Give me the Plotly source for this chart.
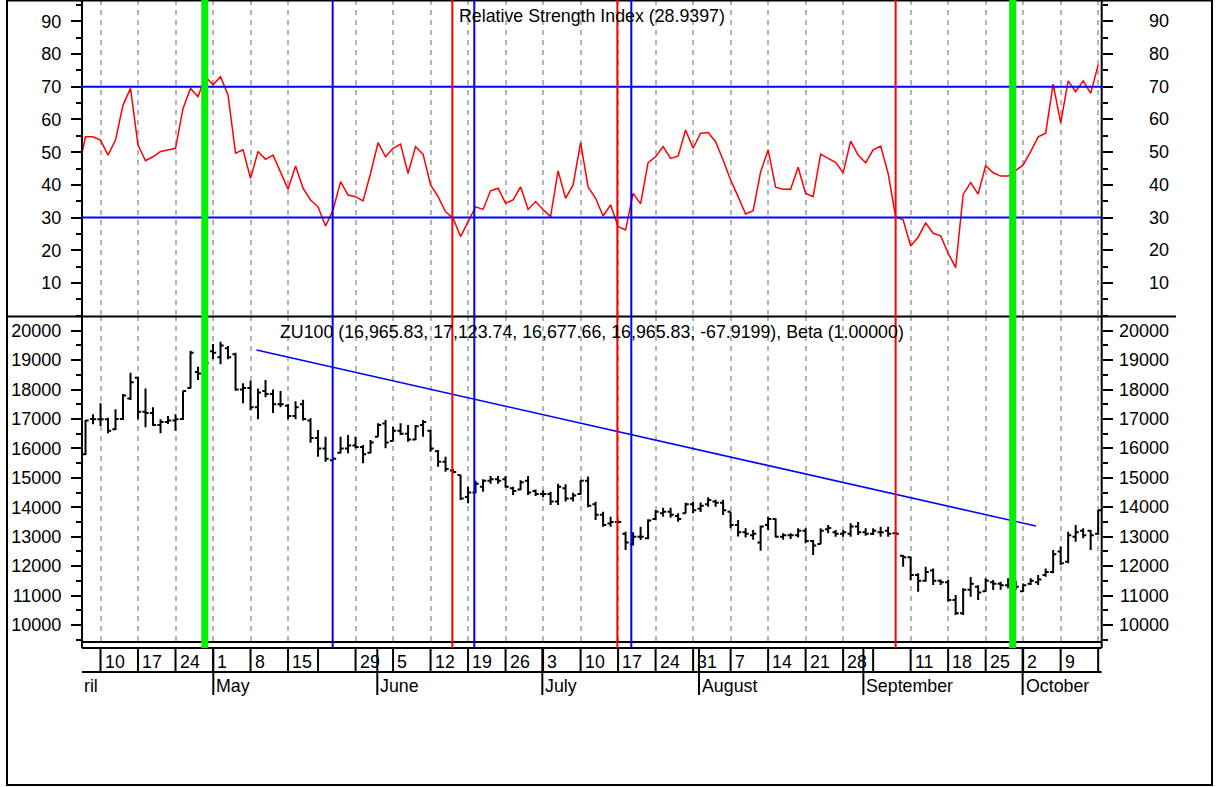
import plotly.graph_objects as go

W, H = 1219, 787

# ---------------- data ----------------
bar_index = list(range(136))
rsi_index = list(range(-1, 136))

rsi_values = [44.0,
    54.7, 54.7, 53.7, 49.1, 53.7, 64.4, 69.5, 52.2, 47.4, 48.6,
    50.2, 50.7, 51.2, 63.4, 69.5, 67.0, 73.1, 70.6, 73.1, 67.5,
    49.7, 50.7, 42.0, 50.2, 47.8, 49.1, 44.0, 38.7, 45.8, 39.0,
    35.4, 33.3, 27.4, 32.3, 41.0, 36.9, 36.4, 35.1, 43.5, 52.9,
    48.6, 51.2, 52.5, 43.5, 51.7, 49.4, 40.0, 36.4, 31.8, 29.8,
    24.2, 28.7, 33.3, 32.5, 38.2, 39.0, 34.4, 35.4, 39.4, 32.5,
    34.9, 32.5, 30.3, 44.3, 35.9, 40.0, 52.9, 39.4, 35.9, 30.5,
    33.9, 27.2, 26.2, 37.4, 34.2, 46.8, 48.6, 51.7, 48.1, 48.8,
    56.8, 51.2, 55.8, 56.0, 53.2, 47.6, 41.5, 36.4, 31.1, 32.1,
    44.0, 50.7, 39.3, 38.7, 38.7, 45.4, 37.4, 36.4, 49.4, 48.1,
    46.9, 43.7, 53.4, 49.1, 46.8, 50.7, 51.9, 43.5, 30.3, 29.3,
    21.3, 24.0, 28.4, 25.2, 24.4, 19.1, 14.7, 37.1, 40.7, 37.2,
    45.9, 43.7, 42.7, 42.7, 44.3, 46.1, 50.2, 54.7, 55.8, 70.8,
    59.0, 71.8, 68.5, 71.8, 68.0, 76.7]

opens = [15800, 17000, 16990, 16990, 16650, 17000, 17700, 18400, 17250, 17200,
         16800, 16900, 16950, 17000, 18050, 18600, 18550, 19300, 19100, 19400,
         19200, 18000, 18050, 17400, 17950, 17850, 17500, 17450, 17100, 17500,
         16950, 16350, 16000, 15600, 15850, 16000, 16100, 16050, 15850, 16400,
         16850, 16250, 16600, 16500, 16300, 16800, 16600, 15900, 15550, 15250,
         15100, 14350, 14500, 14700, 14900, 14950, 14950, 14650, 14600, 14900,
         14550, 14450, 14450, 14200, 14650, 14300, 14450, 14900, 14100, 13750,
         13450, 13500, 13100, 12750, 13000, 12950, 13600, 13800, 13850, 13700,
         13800, 14100, 13950, 14100, 14200, 14150, 13850, 13400, 13150, 13050,
         12800, 13400, 13600, 13000, 13050, 13050, 13200, 12850, 12750, 13250,
         13150, 13100, 13100, 13350, 13150, 13100, 13150, 13200, 13120, 12350,
         12300, 11700, 11500, 11850, 11500, 11450, 10850, 10400, 11200, 11300,
         11150, 11450, 11400, 11350, 11350, 11150, 11400, 11450, 11700, 11800,
         12500, 12150, 13000, 13200, 13200, 13100]
highs = [16966, 17159, 17533, 17044, 17330, 17849, 18573, 18437, 18040, 17400,
         16990, 17100, 17160, 17960, 19320, 18776, 19000, 19548, 19626, 19480,
         19252, 18213, 18300, 18040, 18325, 18000, 17950, 17510, 17600, 17650,
         17024, 16625, 16398, 15700, 16398, 16456, 16398, 16115, 16286, 16853,
         16966, 16738, 16853, 16800, 16800, 16966, 16625, 15946, 15720, 15300,
         15100, 14700, 14900, 14950, 15060, 15060, 15060, 14700, 14920, 15060,
         14600, 14580, 14530, 14800, 14780, 14490, 14920, 15050, 14190, 13850,
         13680, 13550, 13170, 13150, 13340, 13590, 13910, 13980, 13980, 13800,
         14155, 14190, 14160, 14340, 14260, 14260, 13850, 13570, 13290, 13230,
         13380, 13680, 13620, 13120, 13120, 13290, 13290, 12890, 13290, 13400,
         13230, 13230, 13460, 13500, 13290, 13290, 13340, 13340, 13150, 12380,
         12320, 11755, 11980, 11920, 11550, 11530, 11020, 11250, 11630, 11350,
         11590, 11530, 11470, 11590, 11500, 11410, 11590, 11700, 11920, 12550,
         12665, 13170, 13400, 13290, 13230, 13910]
lows = [15775, 16819, 16761, 16513, 16626, 16965, 17645, 16990, 16717, 16760,
        16513, 16830, 16600, 16965, 18040, 18325, 18300, 19028, 18858, 19028,
        17961, 17533, 17306, 16990, 17737, 17200, 17400, 16990, 16990, 16950,
        16195, 15720, 15550, 15580, 15834, 15834, 16000, 15494, 15840, 16398,
        16004, 16240, 16456, 16229, 16280, 16400, 15890, 15380, 15210, 15150,
        14250, 14135, 14480, 14530, 14800, 14800, 14660, 14420, 14580, 14420,
        14380, 14350, 14080, 14080, 14200, 14200, 14420, 14000, 13570, 13340,
        13340, 13450, 12550, 12700, 12890, 12910, 13570, 13680, 13640, 13510,
        13795, 13795, 13840, 14020, 14020, 13740, 13285, 13010, 12970, 12900,
        12520, 13230, 12970, 12900, 12920, 12970, 12780, 12380, 12740, 13115,
        13000, 13000, 13000, 13060, 13030, 13060, 13000, 13000, 13080, 11980,
        11530, 11130, 11470, 11360, 11360, 10790, 10340, 10340, 10960, 10850,
        11130, 11190, 11200, 11250, 11200, 11130, 11360, 11360, 11640, 11755,
        12040, 12100, 12830, 12950, 12550, 13060]
closes = [16950, 16990, 16990, 16600, 17000, 17800, 18250, 17250, 17200, 16800,
          16900, 16950, 16990, 17950, 19250, 18550, 18900, 19250, 19500, 19100,
          18000, 18050, 17400, 17900, 17850, 17500, 17500, 17100, 17400, 17000,
          16350, 16000, 15650, 15650, 16000, 16100, 16050, 15800, 16200, 16800,
          16200, 16600, 16500, 16300, 16750, 16900, 16000, 15550, 15300, 15200,
          14300, 14500, 14800, 14900, 14950, 14900, 14700, 14550, 14850, 14500,
          14450, 14450, 14200, 14700, 14300, 14400, 14900, 14050, 13750, 13400,
          13500, 13500, 12800, 13000, 13000, 13550, 13850, 13850, 13750, 13600,
          14100, 13900, 14050, 14250, 14150, 13900, 13400, 13150, 13100, 13100,
          13350, 13600, 13000, 13050, 13050, 13200, 12850, 12700, 13200, 13300,
          13100, 13150, 13350, 13150, 13100, 13200, 13150, 13100, 13100, 12300,
          11700, 11500, 11800, 11500, 11450, 10850, 10400, 11200, 11400, 11100,
          11500, 11400, 11350, 11350, 11300, 11350, 11500, 11550, 11800, 12400,
          12100, 13050, 13150, 13050, 13050, 13900]

rsi_ticks = [10, 20, 30, 40, 50, 60, 70, 80, 90]
price_ticks = [10000, 11000, 12000, 13000, 14000, 15000, 16000, 17000, 18000, 19000, 20000]

week_index = [2, 7, 12, 17, 22, 27, 31, 36, 41, 46, 51, 56, 61, 66, 71, 76,
              81, 86, 91, 96, 101, 105, 110, 115, 120, 125, 130, 135]
week_labels = ["10", "17", "24", "1", "8", "15", "", "29", "5", "12", "19", "26",
               "3", "10", "17", "24", "31", "7", "14", "21", "28", "", "11", "18",
               "25", "2", "9", ""]
grid_index = [i for i, lab in zip(week_index, week_labels) if lab] + [135]
month_index = [17.04, 38.9, 60.9, 81.78, 103.7, 124.93]
month_labels = ["May", "June", "July", "August", "September", "October"]

green_marks = [15.9, 123.6]
red_marks = [48.9, 70.9, 108.0]
blue_marks = [32.95, 51.83, 72.76]
rsi_levels = [30, 70]
trend_x = [22.8, 126.7]
trend_y = [19344, 13364]

rsi_title = "Relative Strength Index (28.9397)"
price_title = "ZU100 (16,965.83, 17,123.74, 16,677.66, 16,965.83, -67.9199), Beta (1.00000)"

# ---------------- geometry ----------------
PL, PR = 82, 1101.7
RSI_TOP, RSI_BOT = 0, 316
PR_TOP, PR_BOT = 316, 642
AX_TOP, DAY_BOT, MON_BOT = 648, 672, 695
X_RANGE = [-0.467, 135.47]
RSI_RANGE = [-0.09, 96.54]
PRICE_RANGE = [9422, 20500]
FONT = "Liberation Sans, Arial, sans-serif"


def fx(px):
    return px / W


def fy(py):
    return 1 - py / H


fig = go.Figure()
fig.add_trace(go.Ohlc(x=bar_index, open=opens, high=highs, low=lows, close=closes,
                      xaxis="x2", yaxis="y2", tickwidth=0.42,
                      increasing=dict(line=dict(color="black", width=2)),
                      decreasing=dict(line=dict(color="black", width=2)),
                      hoverinfo="skip", showlegend=False))
fig.add_trace(go.Scatter(x=trend_x, y=trend_y, xaxis="x2", yaxis="y2", mode="lines",
                         line=dict(color="#0000ff", width=1.6), showlegend=False,
                         hoverinfo="skip"))
fig.add_trace(go.Scatter(x=rsi_index, y=rsi_values, xaxis="x", yaxis="y", mode="lines",
                         line=dict(color="#ff0000", width=1.5), showlegend=False,
                         hoverinfo="skip"))
fig.add_trace(go.Scatter(x=[None], y=[None], xaxis="x", yaxis="y3", showlegend=False))
fig.add_trace(go.Scatter(x=[None], y=[None], xaxis="x2", yaxis="y4", showlegend=False))

xcommon = dict(domain=[fx(PL), fx(PR)], range=X_RANGE, showticklabels=False, ticks="",
               tickvals=grid_index, showgrid=True, gridcolor="#b4b4b4", gridwidth=1.5,
               griddash="5px,5px", zeroline=False, showline=False, fixedrange=True)
tickfont = dict(family=FONT, size=18, color="black")
ycommon = dict(showgrid=False, zeroline=False, showline=False, ticks="outside",
               ticklen=10, tickwidth=1.5, tickcolor="black", tickfont=tickfont,
               fixedrange=True, ticklabelstandoff=6, tickformat="d")

fig.update_layout(
    width=W, height=H, margin=dict(l=0, r=0, t=0, b=0),
    paper_bgcolor="white", plot_bgcolor="white", showlegend=False,
    xaxis=dict(**xcommon, anchor="y"),
    xaxis2=dict(**xcommon, anchor="y2", rangeslider=dict(visible=False)),
    yaxis=dict(**ycommon, domain=[fy(RSI_BOT), fy(RSI_TOP)], range=RSI_RANGE,
               tickvals=rsi_ticks, anchor="x", side="left",
               minor=dict(dtick=5, tick0=0, ticks="outside", ticklen=5,
                          tickcolor="black", tickwidth=1.5)),
    yaxis3=dict(**ycommon, domain=[fy(RSI_BOT), fy(RSI_TOP)], range=RSI_RANGE,
                tickvals=rsi_ticks, anchor="x", side="right", overlaying="y",
                showticklabels=False,
                minor=dict(dtick=5, tick0=0, ticks="outside", ticklen=5,
                           tickcolor="black", tickwidth=1.5)),
    yaxis2=dict(**ycommon, domain=[fy(PR_BOT), fy(PR_TOP)], range=PRICE_RANGE,
                tickvals=price_ticks, anchor="x2", side="left",
                minor=dict(dtick=500, tick0=0, ticks="outside", ticklen=5,
                           tickcolor="black", tickwidth=1.5)),
    yaxis4=dict(**ycommon, domain=[fy(PR_BOT), fy(PR_TOP)], range=PRICE_RANGE,
                tickvals=price_ticks, anchor="x2", side="right", overlaying="y2",
                showticklabels=False,
                minor=dict(dtick=500, tick0=0, ticks="outside", ticklen=5,
                           tickcolor="black", tickwidth=1.5)),
)

shapes = []


def pline(x0, y0, x1, y1, width=1.5, color="black"):
    shapes.append(dict(type="line", xref="paper", yref="paper",
                       x0=fx(x0), y0=fy(y0), x1=fx(x1), y1=fy(y1),
                       line=dict(color=color, width=width), layer="above"))


# frame
shapes.append(dict(type="rect", xref="paper", yref="paper", x0=fx(7), y0=fy(785),
                   x1=fx(1212), y1=fy(0.5), line=dict(color="black", width=2),
                   fillcolor="rgba(0,0,0,0)", layer="above"))
pline(7, 316.5, 1176, 316.5, 2)
pline(PL, 0, PL, AX_TOP, 2)
pline(PR, 0, PR, AX_TOP, 2)
pline(PL, PR_BOT, PR, PR_BOT, 2)
pline(PL, AX_TOP, PR, AX_TOP, 2)
pline(PL, DAY_BOT, PR, DAY_BOT, 2)

# RSI levels
for lv in rsi_levels:
    shapes.append(dict(type="line", xref="paper", yref="y", x0=fx(PL), x1=fx(PR),
                       y0=lv, y1=lv, line=dict(color="#0000ff", width=2), layer="above"))

# signal lines
for xs, col, wd in ((green_marks, "#00f000", 7), (red_marks, "#ff0000", 2),
                    (blue_marks, "#0000ff", 2)):
    for xv in xs:
        shapes.append(dict(type="line", xref="x2", yref="paper", x0=xv, x1=xv,
                           y0=fy(AX_TOP), y1=1, line=dict(color=col, width=wd),
                           layer="above"))

# date axis boxes
for xv in week_index:
    shapes.append(dict(type="line", xref="x2", yref="paper", x0=xv, x1=xv,
                       y0=fy(DAY_BOT), y1=fy(AX_TOP), line=dict(color="black", width=2)))
for xv in month_index:
    shapes.append(dict(type="line", xref="x2", yref="paper", x0=xv, x1=xv,
                       y0=fy(MON_BOT), y1=fy(AX_TOP), line=dict(color="black", width=2)))

annotations = []
afont = dict(family=FONT, size=17.8, color="black")
annotations.append(dict(text=rsi_title, xref="paper", yref="paper", x=fx((PL + PR) / 2),
                        y=fy(15.5), xanchor="center", yanchor="middle", showarrow=False,
                        font=afont))
annotations.append(dict(text=price_title, xref="paper", yref="paper", x=fx((PL + PR) / 2),
                        y=fy(332), xanchor="center", yanchor="middle", showarrow=False,
                        font=afont))
for v in rsi_ticks:
    annotations.append(dict(text=str(v), xref="paper", yref="y", x=fx(1171), y=v,
                            xanchor="right", yanchor="middle", showarrow=False,
                            font=tickfont))
for v in price_ticks:
    annotations.append(dict(text=str(v), xref="paper", yref="y2", x=fx(1171), y=v,
                            xanchor="right", yanchor="middle", showarrow=False,
                            font=tickfont))
for xv, lab in zip(week_index, week_labels):
    if lab:
        annotations.append(dict(text=lab, xref="x2", yref="paper", x=xv, xshift=2,
                                y=fy(661.5), xanchor="left", yanchor="middle",
                                showarrow=False, font=afont))
for xv, lab in zip(month_index, month_labels):
    annotations.append(dict(text=lab, xref="x2", yref="paper", x=xv, xshift=1,
                            y=fy(686), xanchor="left", yanchor="middle",
                            showarrow=False, font=afont))
annotations.append(dict(text="ril", xref="paper", yref="paper", x=fx(82), y=fy(686),
                        xanchor="left", yanchor="middle", showarrow=False, font=afont))

fig.update_layout(shapes=shapes, annotations=annotations)
fig.write_html("out.html", config={"displayModeBar": False},
               post_script="document.body.style.margin='0';document.body.style.overflow='hidden';")
